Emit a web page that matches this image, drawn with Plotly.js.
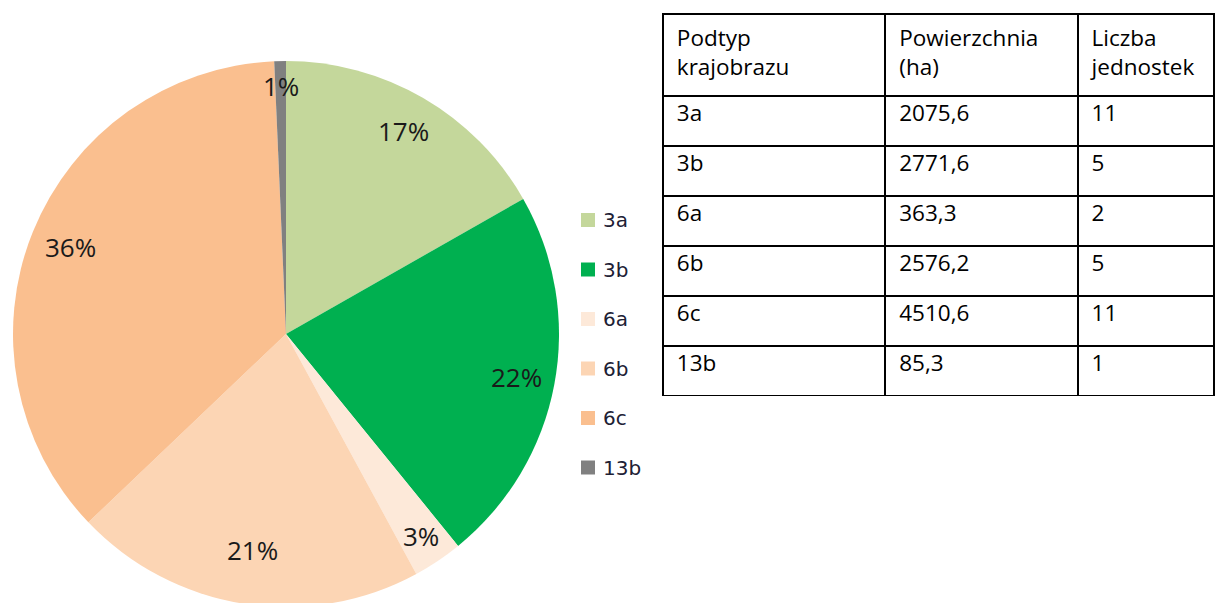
<!DOCTYPE html>
<html>
<head>
<meta charset="utf-8">
<script src="https://cdn.plot.ly/plotly-3.0.1.min.js"></script>
<style>
html,body{margin:0;padding:0;background:#fff;overflow:hidden;}
#chart{width:1215px;height:620px;}
</style>
</head>
<body>
<div id="chart"></div>
<script>
// ---- data ----
const subtypes = ['3a', '3b', '6a', '6b', '6c', '13b'];
const areaHa = [2075.6, 2771.6, 363.3, 2576.2, 4510.6, 85.3];
const unitCount = [11, 5, 2, 5, 11, 1];
const headerLines = [['Podtyp', 'krajobrazu'], ['Powierzchnia', '(ha)'], ['Liczba', 'jednostek']];

// ---- styles / layout ----
const sliceColors = ['#C4D79B', '#00B050', '#FDE9D9', '#FCD5B4', '#FABF8F', '#808080'];
const W = 1215, H = 620;
const cx = 286, cy = 334, R = 273;
const labelFrac = [0.86, 0.86, 0.89, 0.80, 0.85, 0.91];  // Excel "best fit" label radius

const total = areaHa.reduce((a, b) => a + b, 0);
const annotations = [];
let cum = 0;
areaHa.forEach((v, i) => {
  const mid = (cum + v / 2) / total * 2 * Math.PI;
  cum += v;
  const px = cx + labelFrac[i] * R * Math.sin(mid);
  const py = cy - labelFrac[i] * R * Math.cos(mid);
  annotations.push({
    xref: 'paper', yref: 'paper', x: px / W, y: 1 - py / H,
    xanchor: 'center', yanchor: 'middle', showarrow: false,
    text: Math.round(v / total * 100) + '%',
    font: {family: 'Open Sans, sans-serif', size: 26, color: '#1a1a1a'}
  });
});

// legend built from labels/colors
const shapes = [];
const legX = 581, legY0 = 220, legGap = 49.5, sw = 14;
subtypes.forEach((s, i) => {
  const yc = legY0 + i * legGap;
  shapes.push({
    type: 'rect', xref: 'paper', yref: 'paper',
    x0: legX / W, x1: (legX + sw) / W,
    y0: 1 - (yc + sw / 2) / H, y1: 1 - (yc - sw / 2) / H,
    fillcolor: sliceColors[i], line: {width: 0}
  });
  annotations.push({
    xref: 'paper', yref: 'paper', x: (legX + sw + 6) / W, y: 1 - yc / H,
    xanchor: 'left', yanchor: 'middle', showarrow: false, text: s,
    font: {family: 'DejaVu Sans, sans-serif', size: 20, color: '#202034'}
  });
});

const fmt = v => v.toFixed(1).replace('.', ',');

const pie = {
  type: 'pie', values: areaHa, labels: subtypes, sort: false, direction: 'clockwise',
  rotation: 0, textinfo: 'none', showlegend: false,
  marker: {colors: sliceColors, line: {width: 0}},
  domain: {x: [(cx - R) / W, (cx + R) / W], y: [1 - (cy + R) / H, 1 - (cy - R) / H]},
  hovertemplate: '%{label}: %{value} ha (%{percent})<extra></extra>'
};

const tableFont = {family: 'Open Sans, sans-serif', size: 22.5, color: '#000'};
const table = {
  type: 'table',
  domain: {x: [663 / W, 1214 / W], y: [1 - 396 / H, 1 - 14 / H]},
  columnwidth: [222, 192, 136],
  header: {
    values: headerLines.map(l => l.join('<br>\u00A0')), align: 'left', height: 82, prefix: '\u00A0',
    line: {color: '#000', width: 2}, fill: {color: '#fff'}, font: tableFont
  },
  cells: {
    values: [subtypes, areaHa.map(fmt), unitCount.map(String)],
    align: 'left', height: 50, prefix: '\u00A0',
    line: {color: '#000', width: 2}, fill: {color: '#fff'}, font: tableFont
  }
};

Plotly.newPlot('chart', [pie, table], {
  width: W, height: H, margin: {l: 0, r: 0, t: 0, b: 0},
  paper_bgcolor: '#fff', showlegend: false,
  annotations: annotations, shapes: shapes
}, {displayModeBar: false});
</script>
</body>
</html>
